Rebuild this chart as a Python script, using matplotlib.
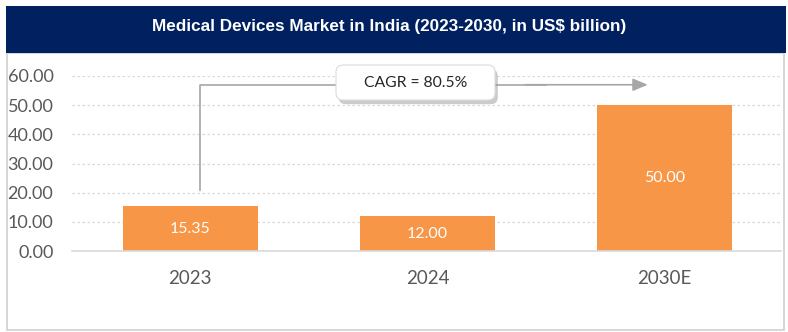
import matplotlib
matplotlib.use('Agg')
import matplotlib.pyplot as plt
from matplotlib.patches import Rectangle, FancyBboxPatch
from matplotlib.transforms import IdentityTransform
import matplotlib.patheffects as pe

# data
years = ['2023', '2024', '2030E']
market = [15.35, 12.00, 50.00]
yticks = [0, 10, 20, 30, 40, 50, 60]
cagr_text = 'CAGR = 80.5%'
title = 'Medical Devices Market in India (2023-2030, in US$ billion)'

W, H = 788, 332
fig = plt.figure(figsize=(W / 100, H / 100), dpi=100)

def fx(px):
    return px / W

def fy(py):
    return 1 - py / H

# outer border and title banner
fig.patches.append(Rectangle((fx(6.5), fy(329.5)), fx(783.5) - fx(6.5), fy(53) - fy(329.5),
                             transform=fig.transFigure, facecolor='none',
                             edgecolor='#d0d0d0', linewidth=1.2))
fig.patches.append(Rectangle((fx(6), fy(53)), fx(786) - fx(6), fy(6) - fy(53),
                             transform=fig.transFigure, facecolor='#002060',
                             edgecolor='none'))
fig.text(fx(389), fy(26), title, color='white', fontsize=12.3, fontweight='bold',
         family=['Liberation Sans Narrow', 'Liberation Sans'], ha='center', va='center')

ax = fig.add_axes([fx(71.5), fy(251), fx(781) - fx(71.5), fy(76) - fy(251)])
ax.set_facecolor('none')
x = list(range(len(years)))
bars = ax.bar(x, market, width=0.57, color='#f79646', zorder=2)
for xi, v in zip(x, market):
    ax.text(xi, v / 2, f'{v:.2f}', color='white', fontsize=11.5, ha='center', va='center',
            family='Lato', zorder=3)

ax.set_xlim(-0.5, 2.49)
ax.set_ylim(0, 60)
ax.set_yticks(yticks)
ax.set_yticklabels([f'{t:.2f}' for t in yticks], family='Lato', fontsize=13, color='#595959')
ax.set_xticks(x)
ax.set_xticklabels(years, family='Lato', fontsize=13.5, color='#595959')
ax.tick_params(axis='both', length=0)
ax.tick_params(axis='x', pad=14)
ax.tick_params(axis='y', pad=13)
ax.yaxis.grid(True, color='#d9d9d9', linestyle=(0, (2, 2)), linewidth=0.9, zorder=0)
ax.set_axisbelow(True)
for s in ['top', 'right', 'left']:
    ax.spines[s].set_visible(False)
ax.spines['bottom'].set_color('#d9d9d9')
ax.spines['bottom'].set_linewidth(1.2)

# CAGR connector
x0, x1 = 0.04, 1.94
y_low, y_top = 21, 57
ax.plot([x0, x0, 1.5], [y_low, y_top, y_top], color='#a6a6a6', linewidth=1.2, zorder=3,
        clip_on=False)
ax.annotate('', xy=(x1, y_top), xytext=(1.4, y_top),
            arrowprops=dict(arrowstyle='-|>,head_length=0.9,head_width=0.38',
                            color='#a6a6a6', linewidth=1.2), zorder=3)

# rounded label box (pixel coordinates, y from bottom)
box = FancyBboxPatch((336, H - 100), 159, 35, boxstyle='round,pad=0,rounding_size=7',
                     transform=IdentityTransform(), facecolor='white',
                     edgecolor='#dcdcdc', linewidth=0.8, zorder=5)
box.set_path_effects([pe.SimplePatchShadow(offset=(2, -3), shadow_rgbFace='#8c8c8c',
                                           alpha=0.45), pe.Normal()])
fig.patches.append(box)
fig.text(fx(415.5), fy(83), cagr_text, fontsize=11.3, family='Lato', color='#262626',
         ha='center', va='center', zorder=6)

fig.savefig('out.png', dpi=100)
